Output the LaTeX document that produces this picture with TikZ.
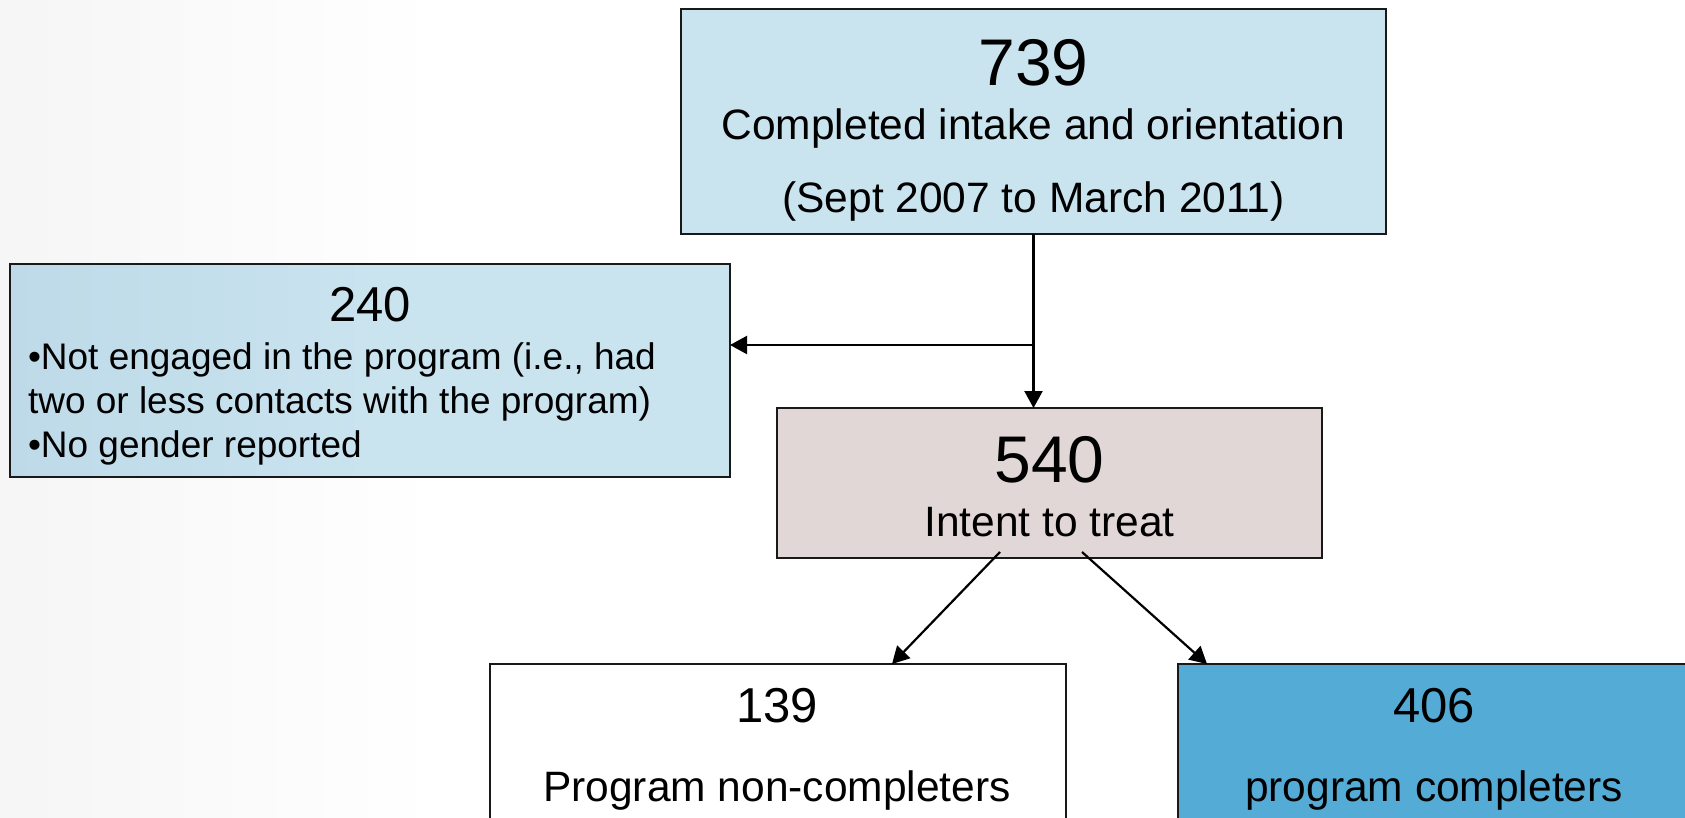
\documentclass[tikz,border=0pt]{standalone}
\usepackage{fontspec}
\setmainfont{Liberation Sans}
\usetikzlibrary{arrows.meta,calc}
\definecolor{boxblue}{RGB}{201,227,239}
\definecolor{boxblueL}{RGB}{190,218,232}
\definecolor{boxpink}{RGB}{226,215,215}
\definecolor{boxdeep}{RGB}{84,172,214}
\definecolor{edge}{RGB}{25,25,25}
\definecolor{bgA}{RGB}{255,255,255}
\definecolor{bgB}{RGB}{244,244,244}
\definecolor{bgC}{RGB}{236,236,236}
\definecolor{bgD}{RGB}{225,225,225}
\pgfdeclarehorizontalshading{bgh}{100bp}{color(0bp)=(bgD); color(12bp)=(bgC); color(38bp)=(bgA); color(80bp)=(bgA); color(100bp)=(bgB)}
\begin{document}
\begin{tikzpicture}[x=1pt,y=-1pt,
  box/.style={draw=edge, line width=2pt, inner sep=0pt, outer sep=0pt},
  lbl/.style={anchor=base, inner sep=0pt, outer sep=0pt, text=black},
  lblw/.style={anchor=base west, inner sep=0pt, outer sep=0pt, text=black},
  numbig/.style={font=\fontsize{66}{70}\selectfont},
  nummid/.style={font=\fontsize{49}{52}\selectfont},
  txt/.style={font=\fontsize{42.5}{48}\selectfont},
  txts/.style={font=\fontsize{37}{42}\selectfont},
  arr/.style={draw=black, line width=2.2pt, -{Triangle[length=17pt,width=18pt]}}]
\useasboundingbox (0,0) rectangle (1685,817);
\clip (0,0) rectangle (1685,817);
% background
\shade[shading=bgh] (0,0) rectangle (1685,817);

% boxes
\node[box, fill=boxblue, minimum width=705pt, minimum height=225pt] (top) at (1033.5,121.5) {};
\node[box, left color=boxblueL, right color=boxblue, middle color=boxblue, minimum width=720pt, minimum height=213pt] (left) at (370,370.5) {};
\node[box, fill=boxpink, minimum width=545pt, minimum height=150pt] (mid) at (1049.5,483) {};
\node[box, fill=white, minimum width=576pt, minimum height=240pt] (nc) at (778,784) {};
\node[box, fill=boxdeep, minimum width=520pt, minimum height=240pt] (pc) at (1438,784) {};

% texts
\node[lbl, numbig] (t739) at (1033.5,85) {739};
\node[lbl, txt] (tcio) at (1033.5,139) {Completed intake and orientation};
\node[lbl, txt] (tdate) at (1033.5,212) {(Sept 2007 to March 2011)};

\node[lbl, nummid] (t240) at (370,321) {240};
\node[lblw, txts] (tl1) at (28,369) {•Not engaged in the program (i.e., had};
\node[lblw, txts] (tl2) at (28,413) {two or less contacts with the program)};
\node[lblw, txts] (tl3) at (28,457) {•No gender reported};

\node[lbl, numbig] (t540) at (1049.5,482) {540};
\node[lbl, txt] (titt) at (1049.5,536) {Intent to treat};

\node[lbl, nummid] (t139) at (777,722) {139};
\node[lbl, txt] (tpnc) at (777,801) {Program non-completers};
\node[lbl, nummid] (t406) at (1434,722) {406};
\node[lbl, txt] (tpc) at (1434,801) {program completers};

% connectors
\coordinate (br) at (top.south |- 0,345);
\draw[arr] (top.south) -- (top.south |- mid.north);
\draw[arr] (br) -- (br -| left.east);
\coordinate (d1) at (1000,552);
\coordinate (d2) at (1082,552);
\draw[arr] (d1) -- ([xshift=114pt]nc.north);
\draw[arr] (d2) -- ([xshift=-231pt]pc.north);
\end{tikzpicture}
\end{document}
